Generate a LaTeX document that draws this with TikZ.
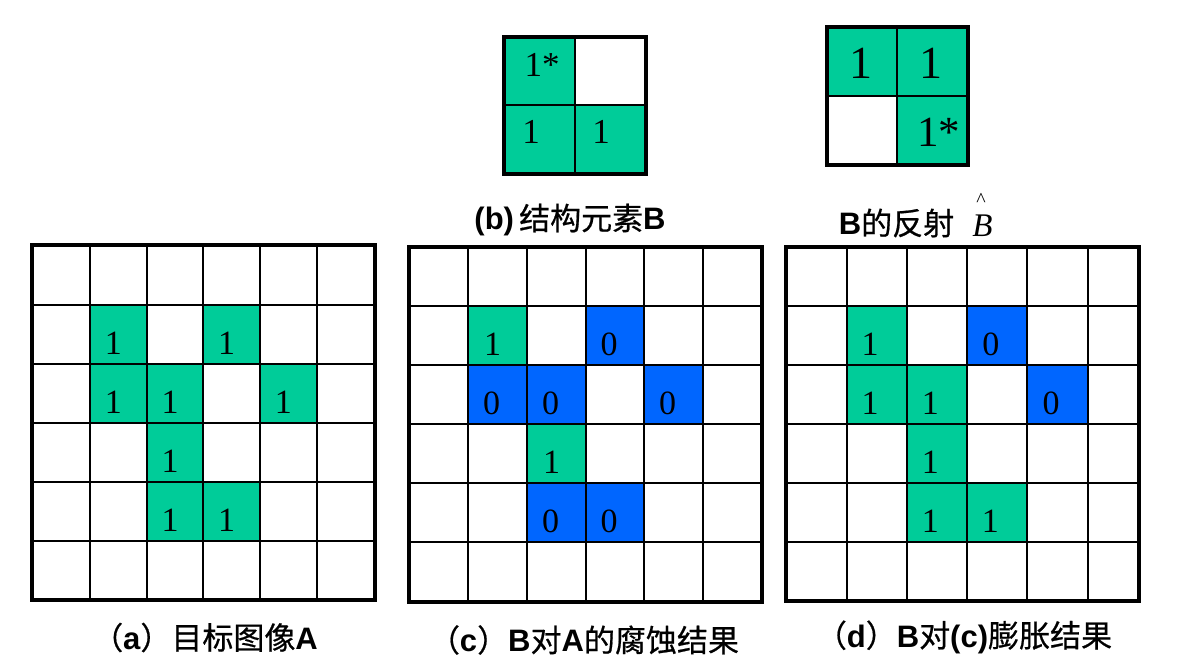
\documentclass[tikz,border=0pt]{standalone}
\usepackage{fontspec}
\setmainfont{Liberation Serif}
\newfontfamily\cjk{Noto Sans CJK SC}[FakeBold=0.6]
\newfontfamily\latsans{Liberation Sans}
\definecolor{tgreen}{RGB}{0,204,153}
\definecolor{tblue}{RGB}{0,102,255}
\tikzset{
  innerline/.style={line width=1.7pt,black},
  outerline/.style={line width=3.6pt,black},
  num/.style={inner sep=0pt,font=\fontsize{34}{34}\selectfont},
  bignum/.style={inner sep=0pt,font=\fontsize{46}{46}\selectfont},
  lbl/.style={inner sep=0pt,font=\cjk\fontsize{31}{31}\selectfont},
}
\newcommand\cellfill[5]{%
  \pgfmathsetmacro\xa{#1[#3]}\pgfmathsetmacro\xb{#1[#3+1]}%
  \pgfmathsetmacro\ya{#2[#4]}\pgfmathsetmacro\yb{#2[#4+1]}%
  \fill[#5] (\xa,\ya) rectangle (\xb,\yb);}
\newcommand\cellnum[7]{% xs ys col row name dx text
  \pgfmathsetmacro\xa{#1[#3]}\pgfmathsetmacro\xb{#1[#3+1]}%
  \pgfmathsetmacro\ya{#2[#4]}\pgfmathsetmacro\yb{#2[#4+1]}%
  \pgfmathsetmacro\xc{(\xa+\xb)/2+(#6)}%
  \pgfmathsetmacro\yc{(\ya+\yb)/2+8.7}%
  \node[num] (#5) at (\xc,\yc) {#7};}
\newcommand\gridlines[3]{% xs ys n
  \pgfmathsetmacro\ya{#2[0]}\pgfmathsetmacro\yb{#2[#3]}%
  \pgfmathsetmacro\xa{#1[0]}\pgfmathsetmacro\xb{#1[#3]}%
  \pgfmathtruncatemacro\nm{#3-1}%
  \foreach \i in {1,...,\nm}{%
    \pgfmathsetmacro\xx{#1[\i]}\pgfmathsetmacro\yy{#2[\i]}%
    \draw[innerline] (\xx,\ya) -- (\xx,\yb);
    \draw[innerline] (\xa,\yy) -- (\xb,\yy);}
  \draw[outerline] (\xa,\ya) rectangle (\xb,\yb);}
\def\AX{{31.7,90,146.7,203.3,260,316.7,375}}
\def\AY{{245,305,364,423,482,541,600}}
\def\CX{{409,468,527,586,644,703,762}}
\def\CY{{246.7,306,365,424,483,542,602}}
\def\DX{{785.7,846.7,907.3,967.3,1027.3,1087.7,1139}}
\def\DY{{246.7,306,365,424,483,542,601}}
\def\BX{{504,575,646}}
\def\BY{{37,105,174}}
\def\HX{{827,897,968}}
\def\HY{{27,96,165}}
\begin{document}
\begin{tikzpicture}[x=1pt,y=-1pt]
\useasboundingbox (0,0) rectangle (1185,659);
% ---- structuring element B
\cellfill{\BX}{\BY}{0}{0}{tgreen}
\cellfill{\BX}{\BY}{0}{1}{tgreen}
\cellfill{\BX}{\BY}{1}{1}{tgreen}
\gridlines{\BX}{\BY}{2}
\node[num,font=\fontsize{35}{35}\selectfont] (b00) at (542,65) {1*};
\node[num,font=\fontsize{35}{35}\selectfont] (b01) at (531,132) {1};
\node[num,font=\fontsize{35}{35}\selectfont] (b11) at (601,132) {1};
% ---- reflection of B
\cellfill{\HX}{\HY}{0}{0}{tgreen}
\cellfill{\HX}{\HY}{1}{0}{tgreen}
\cellfill{\HX}{\HY}{1}{1}{tgreen}
\gridlines{\HX}{\HY}{2}
\node[bignum] (h00) at (860.5,63.5) {1};
\node[bignum] (h10) at (931,63.5) {1};
\node[bignum,font=\fontsize{43}{43}\selectfont,anchor=west] (h11) at (917,132) {1*};
% ---- labels top
\node[lbl] (lb) at (570,220) {{\latsans\bfseries(b)}\,结构元素{\latsans\bfseries B}};
\node[lbl] (lr) at (896.5,223) {{\latsans\bfseries B}的反射};
\node[inner sep=0pt,font=\itshape\fontsize{33}{33}\selectfont] (bhat) at (982.5,226) {B};
\node[inner sep=0pt,font=\fontsize{20}{20}\selectfont] (hat) at (981,200) {\textasciicircum};
% ---- grid A
\cellfill{\AX}{\AY}{1}{1}{tgreen}
\cellfill{\AX}{\AY}{3}{1}{tgreen}
\cellfill{\AX}{\AY}{1}{2}{tgreen}
\cellfill{\AX}{\AY}{2}{2}{tgreen}
\cellfill{\AX}{\AY}{4}{2}{tgreen}
\cellfill{\AX}{\AY}{2}{3}{tgreen}
\cellfill{\AX}{\AY}{2}{4}{tgreen}
\cellfill{\AX}{\AY}{3}{4}{tgreen}
\gridlines{\AX}{\AY}{6}
\cellnum{\AX}{\AY}{1}{1}{a11}{-5}{1}
\cellnum{\AX}{\AY}{3}{1}{a31}{-5}{1}
\cellnum{\AX}{\AY}{1}{2}{a12}{-5}{1}
\cellnum{\AX}{\AY}{2}{2}{a22}{-5}{1}
\cellnum{\AX}{\AY}{4}{2}{a42}{-5}{1}
\cellnum{\AX}{\AY}{2}{3}{a23}{-5}{1}
\cellnum{\AX}{\AY}{2}{4}{a24}{-5}{1}
\cellnum{\AX}{\AY}{3}{4}{a34}{-5}{1}
% ---- grid C (erosion)
\cellfill{\CX}{\CY}{1}{1}{tgreen}
\cellfill{\CX}{\CY}{2}{3}{tgreen}
\cellfill{\CX}{\CY}{3}{1}{tblue}
\cellfill{\CX}{\CY}{1}{2}{tblue}
\cellfill{\CX}{\CY}{2}{2}{tblue}
\cellfill{\CX}{\CY}{4}{2}{tblue}
\cellfill{\CX}{\CY}{2}{4}{tblue}
\cellfill{\CX}{\CY}{3}{4}{tblue}
\gridlines{\CX}{\CY}{6}
\cellnum{\CX}{\CY}{1}{1}{c11}{-5}{1}
\cellnum{\CX}{\CY}{2}{3}{c23}{-5}{1}
\cellnum{\CX}{\CY}{3}{1}{c31}{-6}{0}
\cellnum{\CX}{\CY}{1}{2}{c12}{-6}{0}
\cellnum{\CX}{\CY}{2}{2}{c22}{-6}{0}
\cellnum{\CX}{\CY}{4}{2}{c42}{-6}{0}
\cellnum{\CX}{\CY}{2}{4}{c24}{-6}{0}
\cellnum{\CX}{\CY}{3}{4}{c34}{-6}{0}
% ---- grid D (dilation)
\cellfill{\DX}{\DY}{1}{1}{tgreen}
\cellfill{\DX}{\DY}{1}{2}{tgreen}
\cellfill{\DX}{\DY}{2}{2}{tgreen}
\cellfill{\DX}{\DY}{2}{3}{tgreen}
\cellfill{\DX}{\DY}{2}{4}{tgreen}
\cellfill{\DX}{\DY}{3}{4}{tgreen}
\cellfill{\DX}{\DY}{3}{1}{tblue}
\cellfill{\DX}{\DY}{4}{2}{tblue}
\gridlines{\DX}{\DY}{6}
\cellnum{\DX}{\DY}{1}{1}{d11}{-7}{1}
\cellnum{\DX}{\DY}{1}{2}{d12}{-7}{1}
\cellnum{\DX}{\DY}{2}{2}{d22}{-7}{1}
\cellnum{\DX}{\DY}{2}{3}{d23}{-7}{1}
\cellnum{\DX}{\DY}{2}{4}{d24}{-7}{1}
\cellnum{\DX}{\DY}{3}{4}{d34}{-7}{1}
\cellnum{\DX}{\DY}{3}{1}{d31}{-6.5}{0}
\cellnum{\DX}{\DY}{4}{2}{d42}{-6.5}{0}
% ---- bottom labels
\node[lbl] (la) at (205,637.5) {（{\latsans\bfseries a}）目标图像{\latsans\bfseries A}};
\node[lbl] (lc) at (584,640) {（{\latsans\bfseries c}）{\latsans\bfseries B}对{\latsans\bfseries A}的腐蚀结果};
\node[lbl] (ld) at (964,637) {（{\latsans\bfseries d}）{\latsans\bfseries B}对{\latsans\bfseries(c)}膨胀结果};
\end{tikzpicture}
\end{document}
